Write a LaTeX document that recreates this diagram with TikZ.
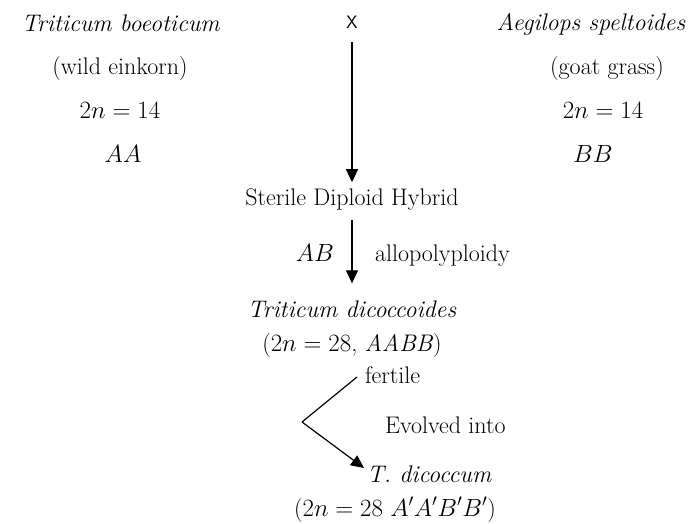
\documentclass[tikz,border=0pt]{standalone}
\usetikzlibrary{arrows.meta}
\begin{document}
\begin{tikzpicture}[x=1pt,y=-1pt,
  txt/.style={inner sep=0pt,outer sep=0pt,font=\fontsize{24}{29}\selectfont},
  cb/.style={txt,anchor=base},
  lb/.style={txt,anchor=base west},
  rb/.style={txt,anchor=base east},
  arr/.style={line width=1.2pt,-{Triangle[width=12pt,length=13pt]}},
  ln/.style={line width=1.2pt}]
\useasboundingbox (0,0) rectangle (694,524);
% left parent
\node[cb] (tb) at (121,32) {\textit{Triticum boeoticum}};
\node[cb] (we) at (120,75) {(wild einkorn)};
\node[cb] (n1) at (120,119) {$2n = 14$};
\node[cb] (aa) at (123,163) {$AA$};
% right parent
\node[cb] (as) at (591,31) {\textit{Aegilops speltoides}};
\node[cb] (gg) at (607,75) {(goat grass)};
\node[cb] (n2) at (603,119) {$2n = 14$};
\node[cb] (bb) at (593,163) {$BB$};
% cross
\node[inner sep=0pt,anchor=base,font=\fontsize{18}{20}\selectfont\sffamily] (x) at (352,29) {X};
\node[cb] (sdh) at (352,205) {Sterile Diploid Hybrid};
\draw[arr] ([yshift=-13pt]x.south) -- ([yshift=6pt]sdh.north);
% allopolyploidy
\node[rb] (ab) at (334,261) {$AB$};
\node[lb] (allo) at (375,261) {allopolyploidy};
\node[cb] (td) at (352,317) {\textit{Triticum dicoccoides}};
\node[cb] (td2) at (352,351) {($2n = 28$, \textit{AABB})};
\draw[arr] ([yshift=-10pt]sdh.south) -- ([yshift=17pt]td.north);
% evolution
\node[lb] (fert) at (365,383) {fertile};
\node[lb] (evo) at (385,433) {Evolved into};
\node[lb] (tdc) at (367,482) {\textit{T. dicoccum}};
\node[cb] (tdc2) at (395,516) {($2n = 28$ $A'A'B'B'$)};
\coordinate (v) at (302,422);
\coordinate (fs) at (357,377);
\coordinate (te) at (364,468);
\draw[ln] (fs) -- (v);
\draw[arr] (v) -- (te);
\end{tikzpicture}
\end{document}
